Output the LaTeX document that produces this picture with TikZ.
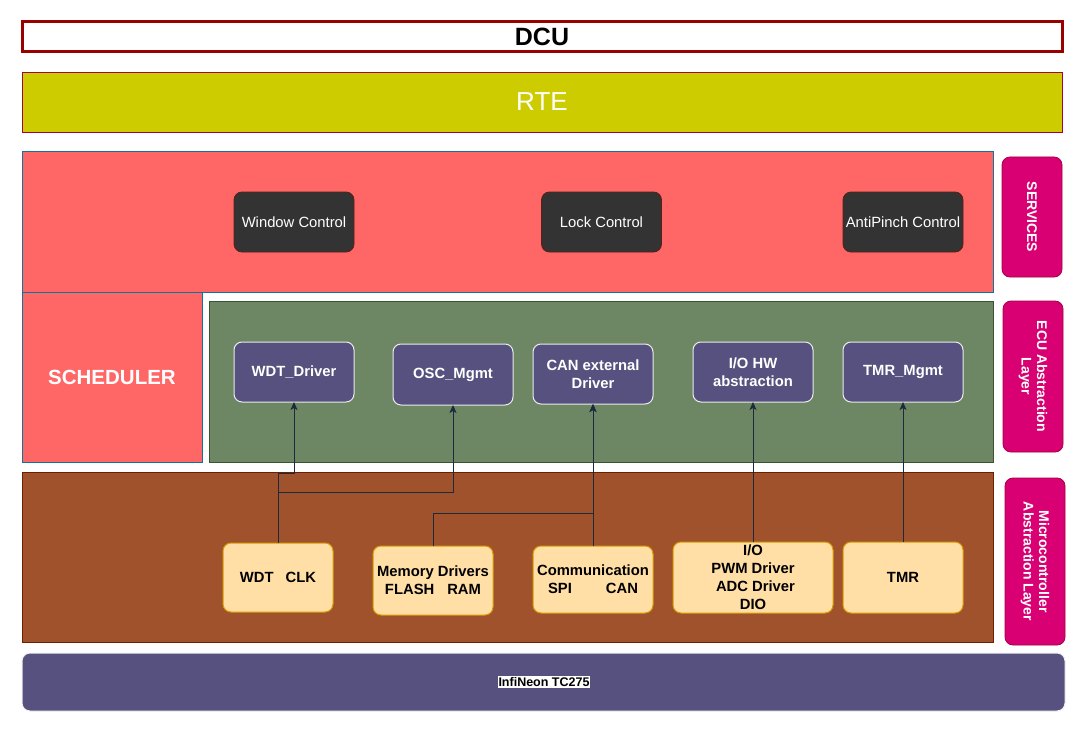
\documentclass[tikz,border=0pt]{standalone}
\usepackage{fontspec}
\setmainfont{Liberation Sans}
\usetikzlibrary{arrows.meta}
\definecolor{dcured}{HTML}{990000}
\definecolor{rtefill}{HTML}{CCCC00}
\definecolor{rteline}{HTML}{A50040}
\definecolor{servfill}{HTML}{FF6666}
\definecolor{servline}{HTML}{10739E}
\definecolor{ecufill}{HTML}{6D8764}
\definecolor{eculine}{HTML}{3A5431}
\definecolor{mcalfill}{HTML}{A0522D}
\definecolor{mcalline}{HTML}{6D1F00}
\definecolor{sidefill}{HTML}{D80073}
\definecolor{sideline}{HTML}{A50040}
\definecolor{purp}{HTML}{56517E}
\definecolor{darkbox}{HTML}{333333}
\definecolor{darkboxline}{HTML}{5A2018}
\definecolor{peach}{HTML}{FFDFA6}
\definecolor{peachline}{HTML}{D79B00}
\definecolor{arrowc}{HTML}{1B2A3F}
\tikzset{
  base/.style={rectangle, inner sep=0pt, outer sep=0pt, align=center},
  layer/.style={base, line width=1pt},
  sidelabel/.style={base, fill=sidefill, draw=sideline, line width=0.8pt, rounded corners=8pt},
  sidetext/.style={text=white, font=\fontsize{14}{15.5}\selectfont\bfseries, rotate=-90, align=center, inner sep=0pt},
  svcbox/.style={base, fill=darkbox, draw=darkboxline, line width=0.8pt, rounded corners=8pt,
     minimum width=120pt, minimum height=60pt, text=white, font=\fontsize{14.8}{17}\selectfont},
  ecubox/.style={base, fill=purp, draw=white!85!gray, line width=1pt, rounded corners=8pt,
     minimum width=120pt, text=white, font=\fontsize{14.8}{18}\selectfont\bfseries},
  mcalbox/.style={base, fill=peach, draw=peachline, line width=1pt, rounded corners=8pt,
     text=black, font=\fontsize{14.8}{18}\selectfont\bfseries},
  conn/.style={draw=arrowc, line width=1pt, -{Stealth[length=8pt,width=7pt,inset=2pt]}},
}
\begin{document}
\begin{tikzpicture}[x=1pt,y=-1pt]
\useasboundingbox (0,0) rectangle (1087,733);
% top bars
\node[base, draw=dcured, line width=3pt, fill=white, minimum width=1040pt, minimum height=30pt,
  font=\fontsize{25}{30}\selectfont\bfseries] (dcu) at (542,37) {DCU};
\node[base, fill=rtefill, draw=rteline, line width=0.8pt, minimum width=1040pt, minimum height=60pt,
  text=white, font=\fontsize{26}{30}\selectfont] (rte) at (542,102) {RTE};
% layers
\node[layer, fill=servfill, draw=servline, minimum width=971pt, minimum height=140pt] (services) at (507.5,222) {};
\node[layer, fill=servfill, draw=servline, minimum width=180pt, minimum height=170pt,
  text=white, font=\fontsize{20.5}{24}\selectfont\bfseries] (scheduler) at (112,377) {SCHEDULER};
\node[layer, fill=ecufill, draw=eculine, minimum width=784pt, minimum height=161pt] (ecu) at (601,381.5) {};
\node[layer, fill=mcalfill, draw=mcalline, minimum width=971pt, minimum height=170pt] (mcal) at (507.5,557) {};
\node[base, fill=purp, draw=white!88!gray, line width=1pt, rounded corners=8pt,
  minimum width=1043pt, minimum height=58pt] (infineon) at (543.5,682) {};
\node[base, fill=white, inner sep=1pt, font=\fontsize{12.5}{14}\selectfont\bfseries] (infitext) at (544,682) {InfiNeon TC275};
% side labels
\node[sidelabel, minimum width=60pt, minimum height=120pt] (sserv) at (1032,217) {};
\node[sidetext] (sservt) at (sserv.center) {SERVICES};
\node[sidelabel, minimum width=60pt, minimum height=151pt] (secu) at (1033,376.5) {};
\node[sidetext] (secut) at (secu.center) {ECU Abstraction\\Layer};
\node[sidelabel, minimum width=60pt, minimum height=167pt] (smcal) at (1035,561.5) {};
\node[sidetext] (smcalt) at (smcal.center) {Microcontroller\\Abstraction Layer};
% services
\node[svcbox] (window) at (294,222) {Window Control};
\node[svcbox] (lock) at (601.5,222) {Lock Control};
\node[svcbox] (anti) at (903,222) {AntiPinch Control};
% ECU abstraction
\node[ecubox, minimum height=60pt] (wdtdrv) at (294,372) {WDT\_Driver};
\node[ecubox, minimum height=61pt] (osc) at (453,374.5) {OSC\_Mgmt};
\node[ecubox, minimum height=60pt] (canx) at (593,374) {CAN external\\Driver};
\node[ecubox, minimum height=60pt] (iohw) at (753,372) {I/O HW\\abstraction};
\node[ecubox, minimum height=60pt] (tmrm) at (903,372) {TMR\_Mgmt};
% MCAL
\node[mcalbox, minimum width=110pt, minimum height=69pt] (wdtclk) at (278,577.5) {WDT\hspace{12pt}CLK};
\node[mcalbox, minimum width=120pt, minimum height=69pt] (mem) at (433,580.5) {Memory Drivers\\FLASH\hspace{13pt}RAM};
\node[mcalbox, minimum width=120pt, minimum height=67pt] (comm) at (593,579.5) {Communication\\SPI\hspace{34pt}CAN};
\node[mcalbox, minimum width=160pt, minimum height=71pt] (io) at (753,577.5) {I/O\\PWM Driver\\\hspace{5pt}ADC Driver\\DIO};
\node[mcalbox, minimum width=120pt, minimum height=71pt] (tmr) at (903,577.5) {TMR};
% connectors
\draw[conn] (wdtclk.north) -- ++(0,-70) -| (wdtdrv.south);
\draw[conn] (wdtclk.north) -- ++(0,-51) -| (osc.south);
\draw[conn] (mem.north) -- ++(0,-33) -| (canx.south);
\draw[conn] (comm.north) -- (canx.south);
\draw[conn] (io.north) -- (iohw.south);
\draw[conn] (tmr.north) -- (tmrm.south);
\end{tikzpicture}
\end{document}
